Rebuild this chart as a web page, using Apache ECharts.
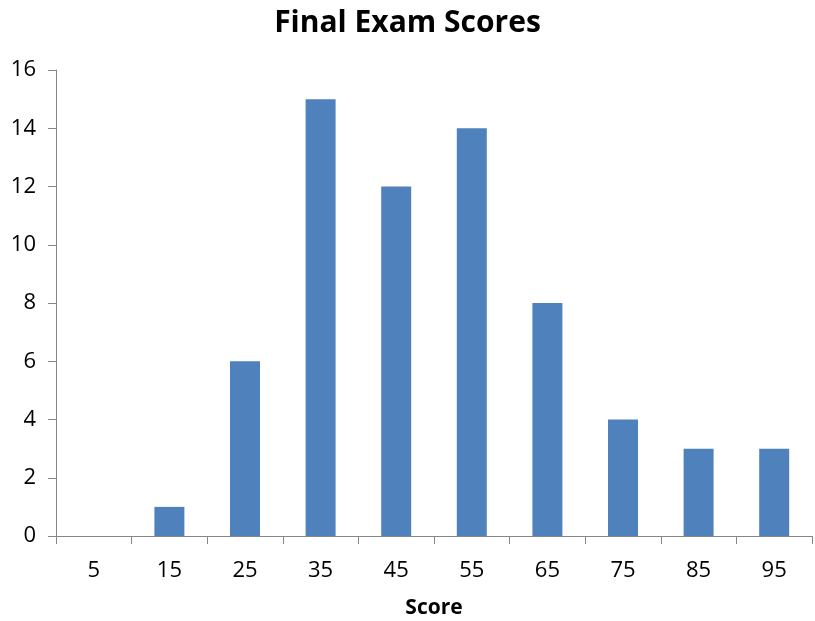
<!DOCTYPE html>
<html>
<head>
<meta charset="utf-8">
<script src="https://cdn.jsdelivr.net/npm/echarts@6/dist/echarts.min.js"></script>
<style>
  html, body { margin: 0; padding: 0; background: #fff; }
  #chart { width: 815px; height: 621px; }
</style>
</head>
<body>
<div id="chart"></div>
<script>
// score bins and counts
const scores = ['5', '15', '25', '35', '45', '55', '65', '75', '85', '95']
const counts = [0, 1, 6, 15, 12, 14, 8, 4, 3, 3]

const chart = echarts.init(document.getElementById('chart'))
const font = 'Open Sans'
const axisGray = '#868686'

chart.setOption({
  animation: false,
  title: {
    text: 'Final Exam Scores',
    left: 'center',
    top: 3,
    textStyle: { fontFamily: font, fontSize: 30, fontWeight: 'bold', color: '#000' }
  },
  grid: { left: 56, right: 3, top: 70, bottom: 85, outerBoundsMode: 'none', containLabel: false },
  xAxis: {
    type: 'category',
    data: scores,
    name: 'Score',
    nameLocation: 'middle',
    nameGap: 62,
    nameTextStyle: { fontFamily: font, fontSize: 21, fontWeight: 'bold', color: '#000' },
    axisLine: { lineStyle: { color: axisGray } },
    axisTick: { show: true, length: 8, lineStyle: { color: axisGray } },
    axisLabel: { fontFamily: font, fontSize: 22, color: '#000', margin: 24 },
    splitLine: { show: false }
  },
  yAxis: {
    type: 'value',
    min: 0,
    max: 16,
    interval: 2,
    axisLine: { show: true, lineStyle: { color: axisGray } },
    axisTick: { show: true, length: 8, lineStyle: { color: axisGray } },
    axisLabel: { fontFamily: font, fontSize: 22, color: '#000', margin: 20 },
    splitLine: { show: false }
  },
  series: [{
    type: 'bar',
    data: counts,
    barWidth: 30,
    itemStyle: { color: '#4F81BD' }
  }]
})
</script>
</body>
</html>
